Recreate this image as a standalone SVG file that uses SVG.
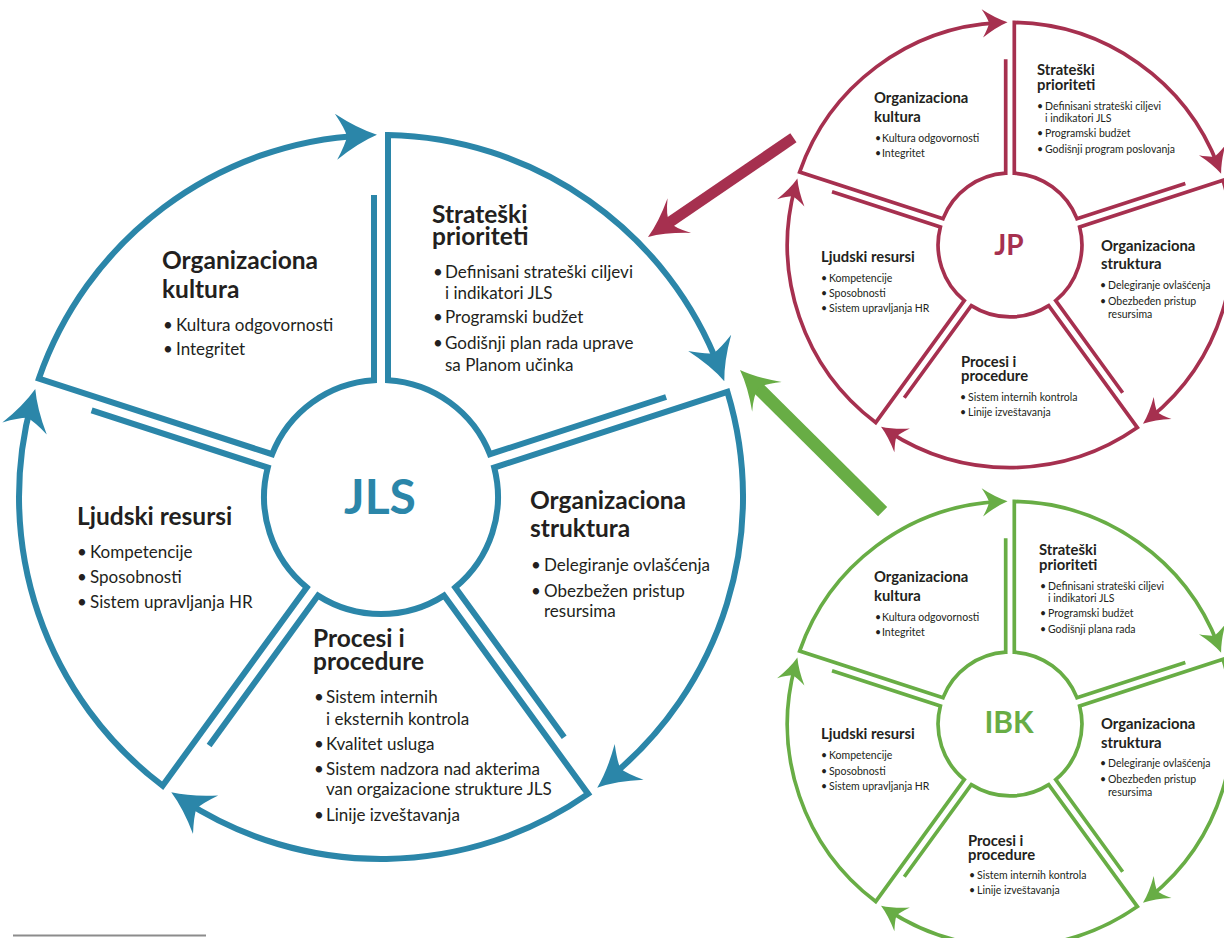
<svg xmlns="http://www.w3.org/2000/svg" width="1224" height="938" viewBox="0 0 1224 938">
<style>
.sec{fill:none;stroke-width:6;stroke-linejoin:miter;stroke-miterlimit:10}
.t{stroke:#2b86a9;marker-end:url(#aT)}
.m{stroke:#a6304f;marker-end:url(#aM)}
.g{stroke:#68ad45;marker-end:url(#aG)}
text{font-family:Lato,"Open Sans","Liberation Sans",sans-serif;fill:#231f20}
.h{font-size:24.5px;font-weight:700}
.b{font-size:17px}
.hs{font-size:14.8px;font-weight:700}
.bs{font-size:10.5px}
.hub{font-weight:700;text-anchor:middle}
</style>
<defs>
<marker id="aT" markerUnits="userSpaceOnUse" orient="auto" markerWidth="90" markerHeight="90" refX="0" refY="0" style="overflow:visible"><path d="M14,0 Q-5,-7 -27,-23 Q-18,-8 -16,0 Q-18,8 -27,23 Q-5,7 14,0Z" fill="#2b86a9"/></marker>
<marker id="aM" markerUnits="userSpaceOnUse" orient="auto" markerWidth="90" markerHeight="90" refX="0" refY="0" style="overflow:visible"><path d="M14,0 Q-5,-7 -27,-23 Q-18,-8 -16,0 Q-18,8 -27,23 Q-5,7 14,0Z" fill="#a6304f"/></marker>
<marker id="aG" markerUnits="userSpaceOnUse" orient="auto" markerWidth="90" markerHeight="90" refX="0" refY="0" style="overflow:visible"><path d="M14,0 Q-5,-7 -27,-23 Q-18,-8 -16,0 Q-18,8 -27,23 Q-5,7 14,0Z" fill="#68ad45"/></marker>
<path id="ah" d="M0,0 Q-17,-6 -38,-21 Q-27,-8 -26,0 Q-27,8 -38,21 Q-17,6 0,0Z"/>
</defs>

<!-- JLS main diagram -->
<g id="jls">
<g id="jls-strateski">
<path class="sec t" transform="translate(381,497)" d="M285.1,-100 L108.9,-42.8 A117,117 0 0 0 7,-116.8 L7,-361.9 A362,362 0 0 1 338.3,-128.9"/>
<text class="h"><tspan x="432" y="223">Strateški</tspan><tspan x="432" y="245">prioriteti</tspan></text>
<text class="b"><tspan x="433" y="278">•</tspan><tspan x="445" y="278">Definisani strateški ciljevi</tspan><tspan x="445" y="299">i indikatori JLS</tspan><tspan x="433" y="323">•</tspan><tspan x="445" y="323">Programski budžet</tspan><tspan x="433" y="349">•</tspan><tspan x="445" y="349">Godišnji plan rada uprave</tspan><tspan x="445" y="371">sa Planom učinka</tspan></text>
</g>
<g id="jls-struktura">
<path class="sec t" transform="translate(381,497)" d="M183.2,240.2 L74.3,90.4 A117,117 0 0 0 113.2,-29.4 L346.4,-105.2 A362,362 0 0 1 227.1,281.9"/>
<text class="h"><tspan x="530" y="509">Organizaciona</tspan><tspan x="530" y="537">struktura</tspan></text>
<text class="b"><tspan x="531" y="571">•</tspan><tspan x="544" y="571">Delegiranje ovlašćenja</tspan><tspan x="531" y="597">•</tspan><tspan x="544" y="597">Obezbežen pristup</tspan><tspan x="544" y="617">resursima</tspan></text>
</g>
<g id="jls-procesi">
<path class="sec t" transform="translate(381,497)" d="M-171.9,248.4 L-63,98.6 A117,117 0 0 0 63,98.6 L207.1,296.9 A362,362 0 0 1 -198,303"/>
<text class="h"><tspan x="313" y="647">Procesi i</tspan><tspan x="313" y="670">procedure</tspan></text>
<text class="b"><tspan x="314" y="703">•</tspan><tspan x="326" y="703">Sistem internih</tspan><tspan x="326" y="725">i eksternih kontrola</tspan><tspan x="314" y="750">•</tspan><tspan x="326" y="750">Kvalitet usluga</tspan><tspan x="314" y="775">•</tspan><tspan x="326" y="775">Sistem nadzora nad akterima</tspan><tspan x="326" y="795">van orgaizacione strukture JLS</tspan><tspan x="314" y="821">•</tspan><tspan x="326" y="821">Linije izveštavanja</tspan></text>
</g>
<g id="jls-ljudski">
<path class="sec t" transform="translate(381,497)" d="M-289.4,-86.7 L-113.2,-29.4 A117,117 0 0 0 -74.3,90.4 L-218.4,288.7 A362,362 0 0 1 -349.4,-94.6"/>
<text class="h" x="77" y="525">Ljudski resursi</text>
<text class="b"><tspan x="77" y="558">•</tspan><tspan x="90" y="558">Kompetencije</tspan><tspan x="77" y="583">•</tspan><tspan x="90" y="583">Sposobnosti</tspan><tspan x="77" y="608">•</tspan><tspan x="90" y="608">Sistem upravljanja HR</tspan></text>
</g>
<g id="jls-kultura">
<path class="sec t" transform="translate(381,497)" d="M-7,-302 L-7,-116.8 A117,117 0 0 0 -108.9,-42.8 L-342.1,-118.5 A362,362 0 0 1 -18,-361.6"/>
<text class="h"><tspan x="162" y="269">Organizaciona</tspan><tspan x="162" y="298">kultura</tspan></text>
<text class="b"><tspan x="163" y="331">•</tspan><tspan x="176" y="331">Kultura odgovornosti</tspan><tspan x="163" y="355">•</tspan><tspan x="176" y="355">Integritet</tspan></text>
</g>
<text id="jls-hub" class="hub" x="380" y="514" font-size="48" style="fill:#2b86a9">JLS</text>
</g>

<!-- JP diagram -->
<g id="jp">
<g id="jp-strateski">
<path class="sec m" transform="translate(1010,245) scale(0.615)" d="M285.1,-100 L108.9,-42.8 A117,117 0 0 0 7,-116.8 L7,-361.9 A362,362 0 0 1 338.3,-128.9"/>
<text class="hs"><tspan x="1037" y="75">Strateški</tspan><tspan x="1037" y="90">prioriteti</tspan></text>
<text class="bs"><tspan x="1037" y="110">•</tspan><tspan x="1045" y="110">Definisani strateški ciljevi</tspan><tspan x="1045" y="122">i indikatori JLS</tspan><tspan x="1037" y="137">•</tspan><tspan x="1045" y="137">Programski budžet</tspan><tspan x="1037" y="153">•</tspan><tspan x="1045" y="153">Godišnji program poslovanja</tspan></text>
</g>
<g id="jp-struktura">
<path class="sec m" transform="translate(1010,245) scale(0.615)" d="M183.2,240.2 L74.3,90.4 A117,117 0 0 0 113.2,-29.4 L346.4,-105.2 A362,362 0 0 1 227.1,281.9"/>
<text class="hs"><tspan x="1101" y="251">Organizaciona</tspan><tspan x="1101" y="269">struktura</tspan></text>
<text class="bs"><tspan x="1100" y="289">•</tspan><tspan x="1108" y="289">Delegiranje ovlašćenja</tspan><tspan x="1100" y="305">•</tspan><tspan x="1108" y="305">Obezbeđen pristup</tspan><tspan x="1108" y="318">resursima</tspan></text>
</g>
<g id="jp-procesi">
<path class="sec m" transform="translate(1010,245) scale(0.615)" d="M-171.9,248.4 L-63,98.6 A117,117 0 0 0 63,98.6 L207.1,296.9 A362,362 0 0 1 -198,303"/>
<text class="hs"><tspan x="961" y="367">Procesi i</tspan><tspan x="961" y="381">procedure</tspan></text>
<text class="bs"><tspan x="960" y="401">•</tspan><tspan x="968" y="401">Sistem internih kontrola</tspan><tspan x="960" y="416">•</tspan><tspan x="968" y="416">Linije izveštavanja</tspan></text>
</g>
<g id="jp-ljudski">
<path class="sec m" transform="translate(1010,245) scale(0.615)" d="M-289.4,-86.7 L-113.2,-29.4 A117,117 0 0 0 -74.3,90.4 L-218.4,288.7 A362,362 0 0 1 -349.4,-94.6"/>
<text class="hs" x="821" y="262">Ljudski resursi</text>
<text class="bs"><tspan x="821" y="282">•</tspan><tspan x="829" y="282">Kompetencije</tspan><tspan x="821" y="297">•</tspan><tspan x="829" y="297">Sposobnosti</tspan><tspan x="821" y="312">•</tspan><tspan x="829" y="312">Sistem upravljanja HR</tspan></text>
</g>
<g id="jp-kultura">
<path class="sec m" transform="translate(1010,245) scale(0.615)" d="M-7,-302 L-7,-116.8 A117,117 0 0 0 -108.9,-42.8 L-342.1,-118.5 A362,362 0 0 1 -18,-361.6"/>
<text class="hs"><tspan x="874" y="103">Organizaciona</tspan><tspan x="874" y="122">kultura</tspan></text>
<text class="bs"><tspan x="875" y="142">•</tspan><tspan x="882" y="142">Kultura odgovornosti</tspan><tspan x="875" y="157">•</tspan><tspan x="882" y="157">Integritet</tspan></text>
</g>
<text id="jp-hub" class="hub" x="1009" y="255" font-size="28" style="fill:#a6304f">JP</text>
</g>

<!-- IBK diagram -->
<g id="ibk">
<g id="ibk-strateski">
<path class="sec g" transform="translate(1010,724) scale(0.615)" d="M285.1,-100 L108.9,-42.8 A117,117 0 0 0 7,-116.8 L7,-361.9 A362,362 0 0 1 338.3,-128.9"/>
<text class="hs"><tspan x="1039" y="555">Strateški</tspan><tspan x="1039" y="570">prioriteti</tspan></text>
<text class="bs"><tspan x="1040" y="590">•</tspan><tspan x="1048" y="590">Definisani strateški ciljevi</tspan><tspan x="1048" y="602">i indikatori JLS</tspan><tspan x="1040" y="617">•</tspan><tspan x="1048" y="617">Programski budžet</tspan><tspan x="1040" y="633">•</tspan><tspan x="1048" y="633">Godišnji plana rada</tspan></text>
</g>
<g id="ibk-struktura">
<path class="sec g" transform="translate(1010,724) scale(0.615)" d="M183.2,240.2 L74.3,90.4 A117,117 0 0 0 113.2,-29.4 L346.4,-105.2 A362,362 0 0 1 227.1,281.9"/>
<text class="hs"><tspan x="1101" y="729">Organizaciona</tspan><tspan x="1101" y="748">struktura</tspan></text>
<text class="bs"><tspan x="1100" y="767">•</tspan><tspan x="1108" y="767">Delegiranje ovlašćenja</tspan><tspan x="1100" y="783">•</tspan><tspan x="1108" y="783">Obezbeđen pristup</tspan><tspan x="1108" y="796">resursima</tspan></text>
</g>
<g id="ibk-procesi">
<path class="sec g" transform="translate(1010,724) scale(0.615)" d="M-171.9,248.4 L-63,98.6 A117,117 0 0 0 63,98.6 L207.1,296.9 A362,362 0 0 1 -198,303"/>
<text class="hs"><tspan x="968" y="846">Procesi i</tspan><tspan x="968" y="860">procedure</tspan></text>
<text class="bs"><tspan x="969" y="879">•</tspan><tspan x="977" y="879">Sistem internih kontrola</tspan><tspan x="969" y="894">•</tspan><tspan x="977" y="894">Linije izveštavanja</tspan></text>
</g>
<g id="ibk-ljudski">
<path class="sec g" transform="translate(1010,724) scale(0.615)" d="M-289.4,-86.7 L-113.2,-29.4 A117,117 0 0 0 -74.3,90.4 L-218.4,288.7 A362,362 0 0 1 -349.4,-94.6"/>
<text class="hs" x="821" y="739">Ljudski resursi</text>
<text class="bs"><tspan x="821" y="759">•</tspan><tspan x="829" y="759">Kompetencije</tspan><tspan x="821" y="775">•</tspan><tspan x="829" y="775">Sposobnosti</tspan><tspan x="821" y="790">•</tspan><tspan x="829" y="790">Sistem upravljanja HR</tspan></text>
</g>
<g id="ibk-kultura">
<path class="sec g" transform="translate(1010,724) scale(0.615)" d="M-7,-302 L-7,-116.8 A117,117 0 0 0 -108.9,-42.8 L-342.1,-118.5 A362,362 0 0 1 -18,-361.6"/>
<text class="hs"><tspan x="874" y="582">Organizaciona</tspan><tspan x="874" y="601">kultura</tspan></text>
<text class="bs"><tspan x="875" y="621">•</tspan><tspan x="882" y="621">Kultura odgovornosti</tspan><tspan x="875" y="636">•</tspan><tspan x="882" y="636">Integritet</tspan></text>
</g>
<text id="ibk-hub" class="hub" x="1009" y="733" font-size="30" style="fill:#68ad45">IBK</text>
</g>

<!-- connectors between diagrams -->
<g id="connectors">
<g id="jp-to-jls" transform="translate(648,237) rotate(145.7)">
<rect x="-176" y="-5.5" width="152" height="11" fill="#a6304f"/>
<use href="#ah" fill="#a6304f"/>
</g>
<g id="ibk-to-jls" transform="translate(740,370) rotate(224.8)">
<rect x="-201" y="-6.5" width="177" height="13" fill="#68ad45"/>
<use href="#ah" fill="#68ad45"/>
</g>
</g>

<line id="footnote-rule" x1="13" y1="935.5" x2="206" y2="935.5" stroke="#8c8c8c" stroke-width="1.8"/>
</svg>
